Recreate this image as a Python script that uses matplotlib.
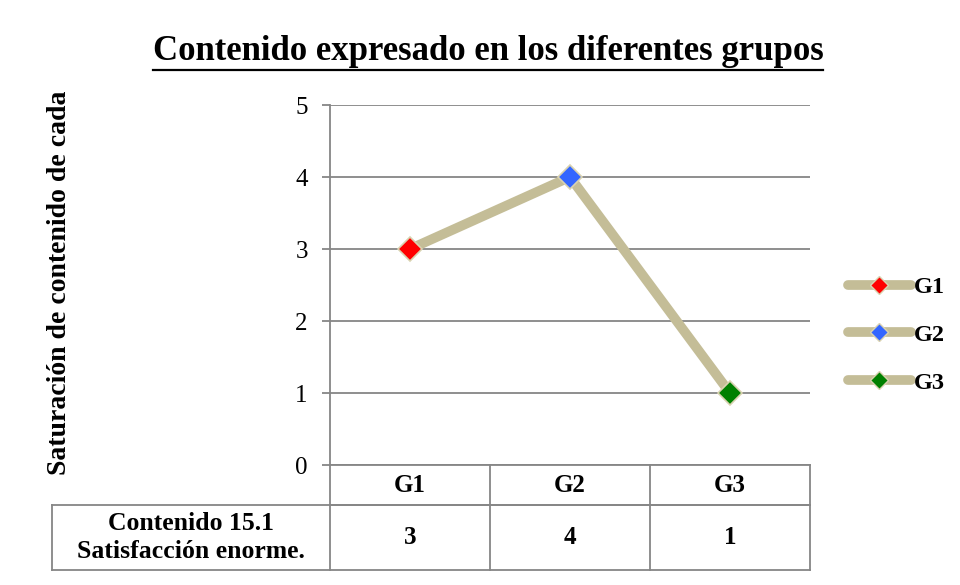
import matplotlib.pyplot as plt
from matplotlib.lines import Line2D

plt.rcParams['font.family'] = ['Liberation Serif', 'DejaVu Serif']

# datos del grafico
grupos = ['G1', 'G2', 'G3']
valores = [3, 4, 1]
colores_marcador = ['#FF0000', '#3366FF', '#008000']
etiqueta_fila = 'Contenido 15.1\nSatisfacción enorme.'
titulo = 'Contenido expresado en los diferentes grupos'
etiqueta_y = 'Saturación de contenido de cada'

color_linea = '#C4BD97'
color_rejilla = '#868686'

fig = plt.figure(figsize=(9.6, 5.85), dpi=100)
# ejes: x 330-810 px, y 105-465 px
ax = fig.add_axes([330/960, 1 - 465/585, 480/960, 360/585])

x = list(range(len(grupos)))
ax.plot(x, valores, color=color_linea, lw=7, solid_capstyle='round', zorder=3)
for xi, v, c in zip(x, valores, colores_marcador):
    ax.plot(xi, v, marker='D', ms=12, mfc=c, mec='#D9D2B0', mew=1.2, zorder=4)

ax.set_xlim(-0.5, len(grupos) - 0.5)
ax.set_ylim(0, 5)
ax.set_yticks(range(0, 6))
ax.set_xticks([])
ax.grid(axis='y', color=color_rejilla, lw=1.3)
ax.set_axisbelow(True)
for s in ['top', 'right']:
    ax.spines[s].set_visible(False)
ax.spines['left'].set_color(color_rejilla)
ax.spines['left'].set_linewidth(1.3)
ax.spines['bottom'].set_color(color_rejilla)
ax.spines['bottom'].set_linewidth(1.3)
ax.tick_params(axis='y', length=6, width=1.3, color=color_rejilla, labelsize=18, pad=10)

# titulo subrayado
fig.text(488/960, 1 - 52/585, titulo, ha='center', va='center', fontsize=25,
         fontweight='bold')
fig.add_artist(Line2D([153/960, 823/960], [1 - 70/585, 1 - 70/585],
                      color='black', lw=1.6))

fig.text(60/960, 1 - 283/585, etiqueta_y, rotation=90, ha='center', va='center',
         fontsize=20, fontweight='bold')

# tabla de datos bajo el eje
tr = ax.transAxes
h1 = 40/360
h2 = 105/360
left = (52 - 330)/480
bordes = dict(color=color_rejilla, lw=1.3, clip_on=False, transform=tr)
ax.plot([0, 1], [-h1, -h1], **bordes)
ax.plot([left, 1], [-h1, -h1], **bordes)
ax.plot([left, 1], [-h2, -h2], **bordes)
ax.plot([left, left], [-h1, -h2], **bordes)
for i in range(len(grupos) + 1):
    ax.plot([i/len(grupos)]*2, [0, -h2], **bordes)
for i, (g, v) in enumerate(zip(grupos, valores)):
    xc = (i + 0.5)/len(grupos)
    ax.text(xc, -h1/2, g, transform=tr, ha='center', va='center',
            fontsize=18, fontweight='bold')
    ax.text(xc, -(h1 + h2)/2, str(v), transform=tr, ha='center', va='center',
            fontsize=18, fontweight='bold')
ax.text(left/2, -(h1 + h2)/2, etiqueta_fila, transform=tr, ha='center',
        va='center', fontsize=18.5, fontweight='bold', linespacing=1.25)

# leyenda
handles = [Line2D([0], [0], color=color_linea, lw=7, marker='D', ms=9,
                  mfc=c, mec='#D9D2B0', solid_capstyle='round')
           for c in colores_marcador]
fig.legend(handles, grupos, loc='center left', bbox_to_anchor=(826/960, 1 - 335/585),
           frameon=False, prop={'size': 17.5, 'weight': 'bold'},
           handlelength=2.6, handletextpad=0.1, labelspacing=1.05)

fig.savefig('out.png', dpi=100)
